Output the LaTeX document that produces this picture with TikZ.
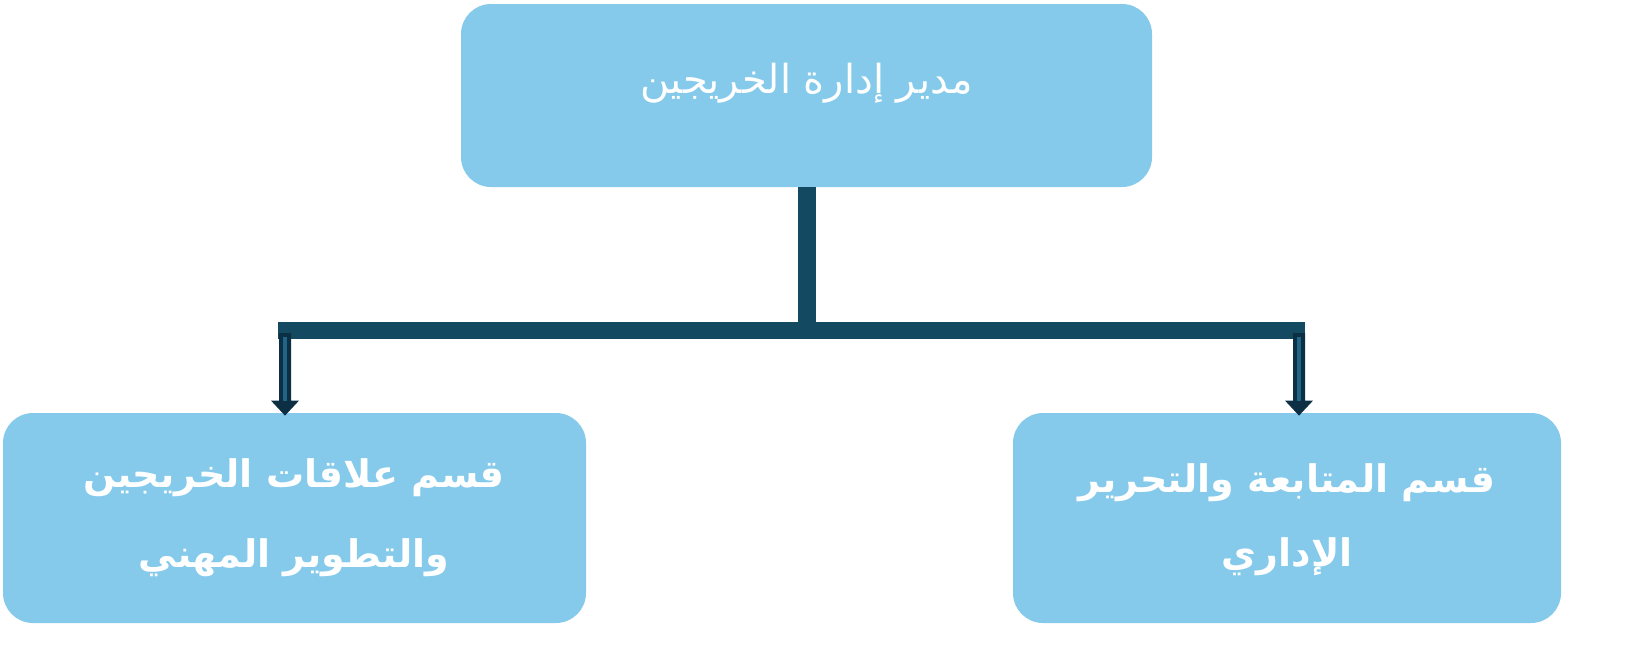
\documentclass[tikz,border=0pt]{standalone}
\usepackage{fontspec}
\TeXXeTstate=1
\newfontfamily\arabicfont[Script=Arabic]{DejaVu Sans}
\definecolor{boxfill}{HTML}{85CAEB}
\definecolor{linkcol}{HTML}{134A62}
\definecolor{arrowdark}{HTML}{0D2F44}
\definecolor{arrowlight}{HTML}{1E6587}
\begin{document}
\begin{tikzpicture}[x=0.5pt,y=-0.5pt,
  unitbox/.style={fill=boxfill, draw=none, rounded corners=15pt, inner sep=0pt},
  link/.style={draw=linkcol, line width=9pt},
]
\useasboundingbox (0,0) rectangle (1636,655);
% boxes
\node[unitbox, minimum width=345.5pt, minimum height=91.5pt] (top) at (806.5,95.5) {};
\node[font=\arabicfont\fontsize{20}{24}\selectfont, text=white] (toptext) at (806.5,83) {\beginR مدير إدارة الخريجين\endR};
\node[unitbox, minimum width=291.5pt, minimum height=105pt] (left) at (294.5,518) {};
\node[font=\arabicfont\bfseries\fontsize{19}{40}\selectfont, text=white, align=center] (lefttext) at (294,518) {\beginR قسم علاقات الخريجين\endR\\\beginR والتطوير المهني\endR};
\node[unitbox, minimum width=274pt, minimum height=105pt] (right) at (1287,518) {};
\node[font=\arabicfont\bfseries\fontsize{19}{37}\selectfont, text=white, align=center] (righttext) at (1287,520) {\beginR قسم المتابعة والتحرير\endR\\\beginR الإداري\endR};
% connector bar
\coordinate (barL) at (278,330.5);
\coordinate (barR) at (1305,330.5);
\coordinate (barM) at (top.south |- barL);
\draw[link] (top.south) -- (barM);
\draw[draw=linkcol, line width=8.5pt] (barL) -- (barR);
% arrows
\coordinate (aL) at (285,333);
\coordinate (aR) at (1299,333);
\foreach \a/\b in {aL/left, aR/right}{
  \coordinate (tip) at (\a |- \b.north);
  \fill[arrowdark] ([xshift=-3pt]\a) -- ([xshift=3pt]\a) -- ([xshift=3pt,yshift=6pt]tip) -- ([xshift=7pt,yshift=6pt]tip) -- ([yshift=-1.5pt]tip) -- ([xshift=-7pt,yshift=6pt]tip) -- ([xshift=-3pt,yshift=6pt]tip) -- cycle;
  \fill[arrowlight] ([xshift=-1pt,yshift=-2pt]\a) rectangle ([xshift=1pt,yshift=6pt]tip);
}
\end{tikzpicture}
\end{document}
